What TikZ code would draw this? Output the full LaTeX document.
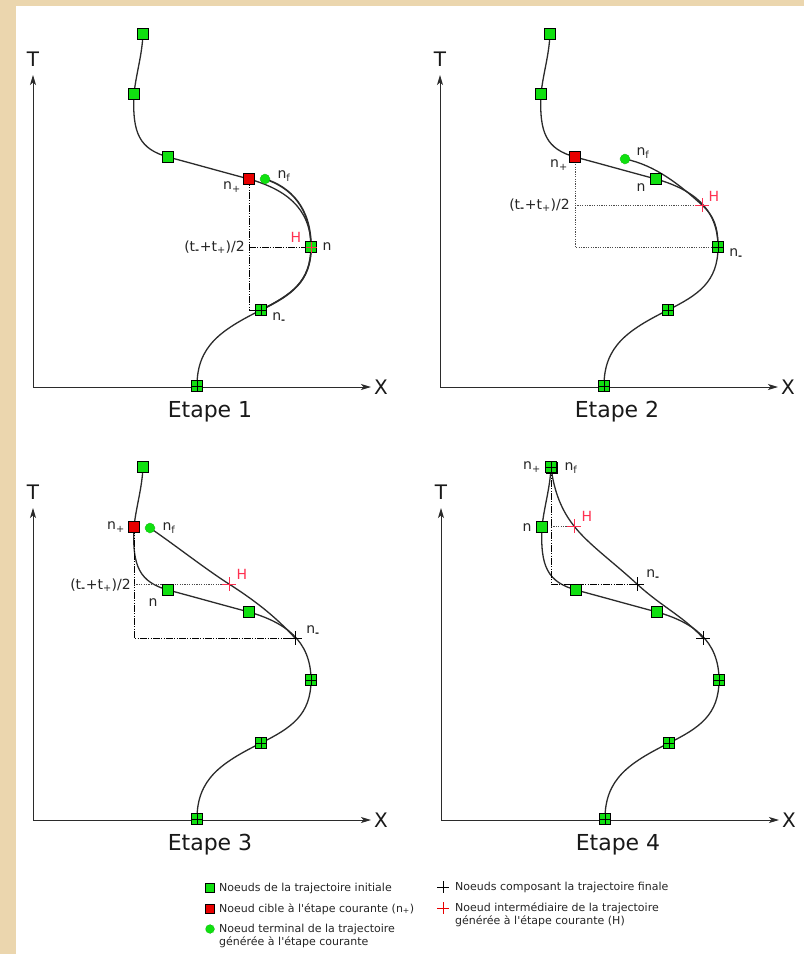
\documentclass[tikz,border=0pt]{standalone}
\usepackage{fontspec}
\setmainfont{DejaVu Sans}
\usetikzlibrary{arrows.meta}
\definecolor{parchemin}{HTML}{EBD6AE}
\definecolor{vertn}{HTML}{10E010}
\definecolor{rougen}{HTML}{E80000}
\definecolor{rougeh}{HTML}{FF3050}
\definecolor{trait}{HTML}{2B2B2B}

\tikzset{
  axe/.style={trait,line width=1pt,-{Stealth[length=10pt,width=6pt,inset=2.5pt]}},
  traj/.style={trait,line width=1.3pt},
  gen/.style={trait,line width=1.3pt},
  guide/.style={black,line width=0.7pt,dash pattern=on 7pt off 1.2pt on 1.2pt off 1.2pt on 1.2pt off 1.2pt},
  pointille/.style={black!70,line width=0.8pt,dash pattern=on 1.2pt off 1.2pt},
  vert/.style={draw=black,fill=vertn,line width=0.7pt,minimum size=11pt,inner sep=0pt},
  cible/.style={vert,fill=rougen},
  term/.style={circle,draw=vertn!70!black,densely dotted,fill=vertn,minimum size=10pt,inner sep=0pt,line width=0.5pt},
  lab/.style={font=\fontsize{14}{14}\selectfont,text=black!85,inner sep=0pt},
  labh/.style={lab,text=rougeh},
  axelab/.style={font=\fontsize{20}{20}\selectfont,text=black!90,inner sep=0pt},
  etape/.style={font=\fontsize{22}{22}\selectfont,text=black!90,inner sep=0pt},
  legende/.style={font=\fontsize{11}{13}\selectfont,text=black!85,align=left,anchor=west,inner sep=0pt}
}

% croix : couleur, point, demi-longueur
\newcommand{\croix}[3][black]{\draw[#1,line width=0.9pt] (#2) +(-#3,0) -- +(#3,0) (#2) +(0,-#3) -- +(0,#3);}
\newcommand{\moins}{\textsubscript{\textbf{-}}}

% axes T/X et titre de l'etape
\newcommand{\repere}[1]{%
  \coordinate (o) at (33,387);
  \coordinate (ot) at (33,75);
  \coordinate (ox) at (371,387);
  \draw[axe] (o) -- (ot);
  \draw[axe] (o) -- (ox);
  \node[axelab] (T) at (33,59) {T};
  \node[axelab] (X) at (381,387) {X};
  \node[etape] (E) at (210,412) {Etape #1};
}

% trajectoire initiale (identique aux 4 etapes)
\newcommand{\trajinit}{%
  \coordinate (a) at (143,34);
  \coordinate (b) at (134,94);
  \coordinate (c) at (168,157);
  \coordinate (d) at (249,179);
  \coordinate (n) at (311,247);
  \coordinate (m) at (261,310);
  \coordinate (g) at (197,386);
  \draw[traj] (a) .. controls +(-1,22) and +(2,-20) .. (b)
    .. controls +(-2,40) and +(-28,-8) .. (c)
    .. controls +(30,8) and +(-30,-8) .. (d)
    .. controls +(35,10) and +(0,-40) .. (n)
    .. controls +(0,35) and +(30,-15) .. (m)
    .. controls +(-40,20) and +(0,-40) .. (g);
}

\begin{document}
\begin{tikzpicture}[x=1pt,y=-1pt]
\useasboundingbox (0,0) rectangle (804,954);
\fill[parchemin] (0,0) rectangle (804,954);
\fill[white] (16,6) rectangle (804,954);

% Etape 1
\begin{scope}[name prefix=e1-]
\repere{1}
\trajinit
\coordinate (f) at (265,179);
\draw[gen,line width=1.7pt] (f) .. controls +(25,8) and +(0,-40) .. (n) .. controls +(0,35) and +(30,-15) .. (m);
\draw[guide] (d) -- (d |- m) -- (m);
\draw[guide] (d |- n) -- (n);
\node[vert] (ka) at (a) {};
\node[vert] (kb) at (b) {};
\node[vert] (kc) at (c) {};
\node[cible] (kd) at (d) {};
\node[term] (kf) at (f) {};
\node[vert] (kn) at (n) {};
\node[vert] (km) at (m) {};
\node[vert] (kg) at (g) {};
\croix[rougeh]{n}{5.5}
\croix{m}{5.5}
\croix{g}{5.5}
\node[lab] (lp) at (232,187) {n\textsubscript{+}};
\node[lab] (lf) at (284,176) {n\textsubscript{f}};
\node[labh] (lh) at (296,237) {H};
\node[lab] (ln) at (327,247) {n};
\node[lab] (lm) at (279,318) {n\moins};
\node[lab,anchor=east] (lt) at (245,247) {(t\moins+t\textsubscript{+})/2};
\end{scope}

% Etape 2
\begin{scope}[shift={(407,0)},name prefix=e2-]
\repere{2}
\trajinit
\coordinate (f) at (218,159);
\coordinate (h) at (295,205);
\draw[gen] (f) .. controls +(30,6) and +(-22,-20) .. (h) .. controls +(12,11) and +(0,-20) .. (n);
\draw[pointille] (c) -- (c |- n) -- (n);
\draw[pointille] (c |- h) -- (h);
\node[vert] (ka) at (a) {};
\node[vert] (kb) at (b) {};
\node[cible] (kc) at (c) {};
\node[term] (kf) at (f) {};
\node[vert] (kd) at (d) {};
\node[vert] (kn) at (n) {};
\node[vert] (km) at (m) {};
\node[vert] (kg) at (g) {};
\croix{n}{5.5}
\croix{m}{5.5}
\croix{g}{5.5}
\croix[rougeh]{h}{7}
\node[lab] (lp) at (152,165) {n\textsubscript{+}};
\node[lab] (lf) at (236,153) {n\textsubscript{f}};
\node[lab] (ln) at (234,188) {n};
\node[labh] (lh) at (307,196) {H};
\node[lab] (lm) at (329,254) {n\moins};
\node[lab,anchor=east] (lt) at (163,205) {(t\moins+t\textsubscript{+})/2};
\end{scope}

% Etape 3
\begin{scope}[shift={(0,433)},name prefix=e3-]
\repere{3}
\trajinit
\coordinate (f) at (150,95);
\coordinate (h) at (229,151);
\coordinate (p) at (295,205);
\draw[gen] (f) .. controls +(25,17) and +(-25,-16) .. (h) .. controls +(25,16) and +(-20,-22) .. (p);
\draw[guide] (b) -- (b |- p) -- (p);
\draw[pointille] (b |- h) -- (h);
\node[vert] (ka) at (a) {};
\node[cible] (kb) at (b) {};
\node[term] (kf) at (f) {};
\node[vert] (kc) at (c) {};
\node[vert] (kd) at (d) {};
\node[vert] (kn) at (n) {};
\node[vert] (km) at (m) {};
\node[vert] (kg) at (g) {};
\croix{p}{7}
\croix{n}{5.5}
\croix{m}{5.5}
\croix{g}{5.5}
\croix[rougeh]{h}{7}
\node[lab] (lp) at (116,94) {n\textsubscript{+}};
\node[lab] (lf) at (169,95) {n\textsubscript{f}};
\node[labh] (lh) at (242,141) {H};
\node[lab] (ln) at (153,170) {n};
\node[lab] (lm) at (313,198) {n\moins};
\node[lab,anchor=east] (lt) at (131,152) {(t\moins+t\textsubscript{+})/2};
\end{scope}

% Etape 4
\begin{scope}[shift={(408,433)},name prefix=e4-]
\repere{4}
\trajinit
\coordinate (h) at (166,93);
\coordinate (q) at (229,151);
\coordinate (p) at (295,205);
\draw[gen] (a) .. controls +(3,25) and +(-12,-15) .. (h) .. controls +(14,18) and +(-25,-23) .. (q) .. controls +(25,23) and +(-20,-22) .. (p);
\draw[guide] (a) -- (a |- q) -- (q);
\draw[pointille] (a |- h) -- (h);
\node[cible,xshift=1pt,yshift=-1pt] (kt) at (a) {};
\node[vert] (ka) at (a) {};
\node[vert] (kb) at (b) {};
\node[vert] (kc) at (c) {};
\node[vert] (kd) at (d) {};
\node[vert] (kn) at (n) {};
\node[vert] (km) at (m) {};
\node[vert] (kg) at (g) {};
\croix{a}{5.5}
\croix{p}{7}
\croix{q}{7}
\croix{n}{5.5}
\croix{m}{5.5}
\croix{g}{5.5}
\croix[rougeh]{h}{7}
\node[lab] (lp) at (124,34) {n\textsubscript{+}};
\node[lab] (lf) at (163,35) {n\textsubscript{f}};
\node[lab] (ln) at (119,95) {n};
\node[labh] (lh) at (179,83) {H};
\node[lab] (lm) at (245,142) {n\moins};
\end{scope}

% legende
\node[vert,minimum size=9pt] (gv) at (210,888) {};
\node[legende] (tv) at (219,888) {Noeuds de la trajectoire initiale};
\node[cible,minimum size=9pt] (gc) at (210,909) {};
\node[legende] (tc) at (219,909) {Noeud cible à l\textquotesingle étape courante (n\textsubscript{+})};
\node[term,minimum size=9pt] (gt) at (210,929) {};
\node[legende] (tt) at (219,935.5) {Noeud terminal de la trajectoire\\générée à l\textquotesingle étape courante};
\coordinate (gx) at (443,887);
\croix{gx}{6}
\node[legende] (tx) at (455,887) {Noeuds composant la trajectoire finale};
\coordinate (gh) at (443,908);
\croix[rougen]{gh}{6}
\node[legende] (th) at (455,914.5) {Noeud intermédiaire de la trajectoire\\générée à l\textquotesingle étape courante (H)};
\end{tikzpicture}
\end{document}
